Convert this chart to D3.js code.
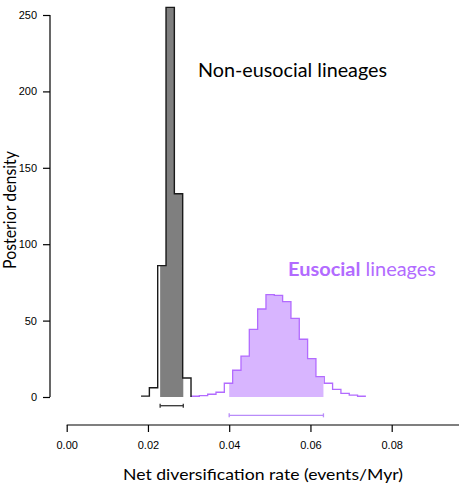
<!DOCTYPE html>
<html>
<head>
<meta charset="utf-8">
<script src="https://cdn.jsdelivr.net/npm/d3@7"></script>
<style>
html,body{margin:0;padding:0;background:#fff;}
svg{display:block;}
</style>
</head>
<body>
<svg id="chart" width="459" height="486"></svg>
<script>
// ---- data ----
const xTicks = [0.00, 0.02, 0.04, 0.06, 0.08];
const xTickLabels = ["0.00", "0.02", "0.04", "0.06", "0.08"];
const xAxisEnd = 0.10;
const yTicks = [0, 50, 100, 150, 200, 250];
const yTickLabels = ["0", "50", "100", "150", "200", "250"];

// Non-eusocial posterior histogram: bin edges and densities
const nonEdges = [0.0183, 0.02035, 0.0224, 0.02445, 0.0265, 0.02855, 0.0306];
const nonDensity = [0.6, 6.1, 86, 255, 133, 12.4];
const nonHPD = [0.0230, 0.0287];

// Eusocial posterior histogram: bin edges and densities
const euEdges = [0.0306, 0.03265, 0.0347, 0.03675, 0.0388, 0.04085, 0.0429, 0.04495,
  0.0470, 0.04905, 0.0511, 0.05315, 0.0552, 0.05725, 0.0593, 0.06135, 0.0634,
  0.06545, 0.0675, 0.06955, 0.0716, 0.07365];
const euDensity = [0.5, 0.9, 1.8, 3.1, 9.0, 17.5, 26.8, 44.3, 57.6, 67.0, 66.5,
  62.4, 51.5, 37.8, 25.1, 13.3, 9.0, 5.0, 2.4, 1.2, 0.5];
const euHPD = [0.0400, 0.0632];

const seriesNames = ["Non-eusocial lineages", "Eusocial", " lineages"];

// ---- layout ----
const svg = d3.select("#chart");
const x = d3.scaleLinear().domain([0, 0.08]).range([66.7, 391.7]);
const y = d3.scaleLinear().domain([0, 250]).range([397, 15]);

const BLACK = "#1a1a1a";
const GRAY = "#7f7f7f";
const PURPLE = "#b26bff";
const PURPLE_FILL = "#d8b5ff";
const PURPLE_BAR = "#b98cf9";

function stepPoints(edges, vals, dropEnd) {
  const pts = [];
  for (let i = 0; i < vals.length; i++) {
    pts.push([edges[i], vals[i]]);
    pts.push([edges[i + 1], vals[i]]);
  }
  if (dropEnd) pts.push([edges[edges.length - 1], 0]);
  return pts;
}

function fillPoints(edges, vals, lo, hi) {
  const pts = [[lo, 0]];
  for (let i = 0; i < vals.length; i++) {
    const a = Math.max(edges[i], lo), b = Math.min(edges[i + 1], hi);
    if (b <= a) continue;
    pts.push([a, vals[i]]);
    pts.push([b, vals[i]]);
  }
  pts.push([hi, 0]);
  return pts;
}

const line = d3.line().x(d => x(d[0])).y(d => y(d[1]));

// fills
svg.append("path")
  .attr("d", line(fillPoints(nonEdges, nonDensity, nonHPD[0], nonHPD[1])) + "Z")
  .attr("fill", GRAY).attr("stroke", "none");
svg.append("path")
  .attr("d", line(fillPoints(euEdges, euDensity, euHPD[0], euHPD[1])) + "Z")
  .attr("fill", PURPLE_FILL).attr("stroke", "none");

// outlines
svg.append("path")
  .attr("d", line(stepPoints(euEdges, euDensity, false)))
  .attr("fill", "none").attr("stroke", PURPLE).attr("stroke-width", 1.3);
svg.append("path")
  .attr("d", line(stepPoints(nonEdges, nonDensity, true)))
  .attr("fill", "none").attr("stroke", BLACK).attr("stroke-width", 1.4);

// HPD interval bars (drawn just below the zero line)
function hpdBar(iv, level, color) {
  const g = svg.append("g").attr("stroke", color).attr("stroke-width", 1.3);
  const yy = y(level);
  g.append("line").attr("x1", x(iv[0])).attr("x2", x(iv[1])).attr("y1", yy).attr("y2", yy);
  g.append("line").attr("x1", x(iv[0])).attr("x2", x(iv[0])).attr("y1", yy - 2).attr("y2", yy + 2);
  g.append("line").attr("x1", x(iv[1])).attr("x2", x(iv[1])).attr("y1", yy - 2).attr("y2", yy + 2);
}
hpdBar(nonHPD, -5.7, "#333");
hpdBar(euHPD, -12, PURPLE_BAR);

// axes
const xAxis = d3.axisBottom(x).tickValues(xTicks).tickSize(7).tickPadding(9)
  .tickFormat((d, i) => xTickLabels[i]);
const xg = svg.append("g").attr("transform", "translate(0,425)").call(xAxis);
xg.select(".domain").attr("d", `M${x(0)},0H${x(xAxisEnd)}`).attr("stroke", "#000").attr("stroke-width", 1.2);
xg.selectAll(".tick line").attr("stroke", "#000").attr("stroke-width", 1.2);
xg.selectAll("text").attr("font-family", "Liberation Sans, Arial, sans-serif").attr("font-size", 11).attr("fill", "#000");

const yAxis = d3.axisLeft(y).tickValues(yTicks).tickSize(7).tickPadding(6)
  .tickFormat((d, i) => yTickLabels[i]);
const yg = svg.append("g").attr("transform", "translate(50,0)").call(yAxis);
yg.select(".domain").attr("d", `M0,${y(0)}V${y(250)}`).attr("stroke", "#000").attr("stroke-width", 1.2);
yg.selectAll(".tick line").attr("stroke", "#000").attr("stroke-width", 1.2);
yg.selectAll("text").attr("font-family", "Liberation Sans, Arial, sans-serif").attr("font-size", 11).attr("fill", "#000");

// axis titles
const TITLE_FONT = "Lato, 'Open Sans', sans-serif";
svg.append("text").attr("x", 263).attr("y", 480).attr("text-anchor", "middle")
  .attr("font-family", TITLE_FONT).attr("font-size", 16).attr("fill", "#000")
  .attr("textLength", 280).attr("lengthAdjust", "spacingAndGlyphs")
  .text("Net diversification rate (events/Myr)");
svg.append("text").attr("transform", "translate(16,210) rotate(-90)").attr("text-anchor", "middle")
  .attr("font-family", TITLE_FONT).attr("font-size", 17).attr("fill", "#000")
  .attr("textLength", 118).attr("lengthAdjust", "spacingAndGlyphs")
  .text("Posterior density");

// series labels
svg.append("text").attr("x", 198).attr("y", 77)
  .attr("font-family", TITLE_FONT).attr("font-size", 19.5).attr("fill", "#000")
  .attr("textLength", 189).attr("lengthAdjust", "spacingAndGlyphs")
  .text(seriesNames[0]);
const eu = svg.append("text").attr("x", 288).attr("y", 276)
  .attr("font-family", TITLE_FONT).attr("font-size", 19.5).attr("fill", PURPLE)
  .attr("textLength", 148).attr("lengthAdjust", "spacingAndGlyphs");
eu.append("tspan").attr("font-weight", "bold").text(seriesNames[1]);
eu.append("tspan").text(seriesNames[2]);
</script>
</body>
</html>
